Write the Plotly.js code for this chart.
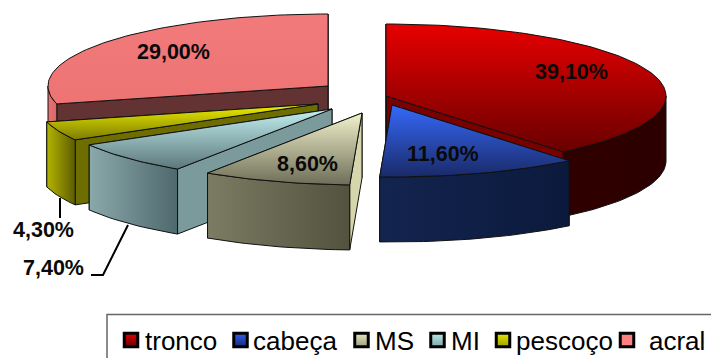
<!DOCTYPE html>
<html>
<head>
<meta charset="utf-8">
<script src="https://cdn.plot.ly/plotly-3.0.1.min.js"></script>
<style>html,body{margin:0;padding:0;background:#fff;overflow:hidden}#chart{width:711px;height:358px}</style>
</head>
<body>
<div id="chart"></div>
<script>
// Body-site distribution, drawn as an exploded pseudo-3D pie.
const categories = ['tronco', 'cabeça', 'MS', 'MI', 'pescoço', 'acral'];
const values = [39.1, 11.6, 8.6, 7.4, 4.3, 29.0];

// Exploded position of each wedge's tip on the pixel-scaled axes.
const tipX = [386, 392, 362, 332, 318, 328];
const tipY = [96, 105, 113, 109, 104, 86];
const radiusX = 280, radiusY = 72, depth = 65;

// Top-face gradient (far to near), outer wall gradient (left to right), flat radial walls.
const topFar = ['#e80000', '#3569fb', '#f2f2cc', '#c2f0f0', '#f0f000', '#f27a7a'];
const topNear = ['#6a0000', '#1a2a68', '#6e6e58', '#5c777b', '#7c7c00', '#ee7474'];
const wallLeft = ['#300000', '#13244f', '#7c7c64', '#8aa9ab', '#b4b400', '#e87272'];
const wallRight = ['#2c0000', '#0b1a3c', '#52523e', '#4f686d', '#5c5c00', '#d86868'];
const radialStart = ['#2c0000', '#0b1a3c', '#d6d6ac', '#7a9a9c', '#6e6e00', '#633232'];
const radialEnd = ['#7a0000', '#0b1a3c', '#52523e', '#4f686d', '#5c5c00', '#633232'];

// Legend layout on the same axes.
const keyX = [131, 240.5, 361.5, 437.5, 503, 627];
const keyTextX = [145, 253, 375, 451, 516, 649];
const keyY = 340;
const keyTextY = 341;

// Value-label anchors and the two leader lines.
const labelX = [571, 443, 307, 53, 43, 173];
const labelY = [72, 154, 164, 268, 230, 52];
const leaderA = {x: [60, 60], y: [198, 218]};
const leaderB = {x: [128, 103, 91], y: [225, 275, 275]};

const OUTLINE = '#111111';
const rad = d => d * Math.PI / 180;
const rimX = (i, deg) => tipX[i] + radiusX * Math.sin(rad(deg));
const rimY = (i, deg) => tipY[i] - radiusY * Math.cos(rad(deg));

function poly(name, xs, ys, fillgradient, fillcolor) {
  const t = {
    type: 'scatter', mode: 'lines', name,
    x: xs.concat(xs[0]), y: ys.concat(ys[0]),
    fill: 'toself', hoverinfo: 'skip',
    line: {color: OUTLINE, width: 1}
  };
  if (fillgradient) t.fillgradient = fillgradient; else t.fillcolor = fillcolor;
  return t;
}

function arc(from, to) {
  const out = [];
  const n = Math.max(2, Math.ceil((to - from) / 1.5));
  for (let k = 0; k <= n; k++) out.push(from + (to - from) * k / n);
  return out;
}

function wedgeTraces(i, a0, a1) {
  const name = categories[i];
  const traces = [];
  const ax = tipX[i], ay = tipY[i];

  // Radial cut faces: the far cut first, so the near one stays visible over it.
  [[a1, radialEnd[i]], [a0, radialStart[i]]].forEach(([a, col]) => {
    const x = rimX(i, a), y = rimY(i, a);
    traces.push(poly(name + ' corte', [ax, x, x, ax], [ay, y, y + depth, ay + depth], null, col));
  });

  // Outer wall: only the near half of the rim faces the viewer.
  const w0 = Math.max(a0, 90), w1 = Math.min(a1, 270);
  if (w1 > w0) {
    const angs = arc(w0, w1);
    const topXs = angs.map(a => rimX(i, a));
    const topYs = angs.map(a => rimY(i, a));
    const xs = topXs.concat(topXs.slice().reverse());
    const ys = topYs.concat(topYs.slice().reverse().map(y => y + depth));
    const lo = Math.min(...xs), hi = Math.max(...xs);
    traces.push(poly(name + ' lateral', xs, ys, {
      type: 'horizontal', start: lo, stop: hi,
      colorscale: [[0, wallLeft[i]], [1, wallRight[i]]]
    }));
  }

  // Top face.
  const angs = arc(a0, a1);
  const xs = [ax].concat(angs.map(a => rimX(i, a)));
  const ys = [ay].concat(angs.map(a => rimY(i, a)));
  const yLo = Math.min(...ys), yHi = Math.max(...ys);
  traces.push(poly(name, xs, ys, {
    type: 'vertical', start: yLo, stop: yHi,
    colorscale: [[0, topFar[i]], [1, topNear[i]]]
  }));
  return traces;
}

// Cumulative angles, clockwise from twelve o'clock.
const total = values.reduce((a, b) => a + b, 0);
const startAngle = [], endAngle = [];
values.reduce((acc, v, i) => {
  startAngle[i] = acc / total * 360;
  endAngle[i] = (acc + v) / total * 360;
  return acc + v;
}, 0);

// Painter's order: farthest wedge first, near wedges last.
const paintOrder = [5, 4, 3, 2, 0, 1];
const data = [];
paintOrder.forEach(i => data.push(...wedgeTraces(i, startAngle[i], endAngle[i])));

[leaderA, leaderB].forEach(l => data.push({
  type: 'scatter', mode: 'lines', x: l.x, y: l.y, hoverinfo: 'skip',
  line: {color: '#000', width: 2}
}));

// Legend keys.
const keyColors = ['#e00000', '#2f5fe8', '#e6e6c0', '#b8e6e6', '#e6e600', '#ff8080'];
const keyDark = ['#6a0000', '#1a2a80', '#a0a080', '#80a8a8', '#a0a000', '#ff8080'];
categories.forEach((c, i) => data.push({
  type: 'scatter', mode: 'markers', x: [keyX[i]], y: [keyY], hoverinfo: 'skip',
  marker: {
    symbol: 'square', size: 13.5, color: keyColors[i],
    gradient: {type: 'vertical', color: keyDark[i]},
    line: {color: '#000', width: 3}
  }
}));

const pct = v => v.toFixed(2).replace('.', ',') + '%';
const annotations = [];
values.forEach((v, i) => annotations.push({
  xref: 'x', yref: 'y', x: labelX[i], y: labelY[i], text: '<b>' + pct(v) + '</b>',
  showarrow: false, xanchor: 'center', yanchor: 'middle',
  font: {family: '"Liberation Sans", Arial, sans-serif', size: 21.5, color: '#0a0a0a'}
}));
categories.forEach((c, i) => annotations.push({
  xref: 'x', yref: 'y', x: keyTextX[i], y: keyTextY, text: c,
  showarrow: false, xanchor: 'left', yanchor: 'middle',
  xshift: -2,
  font: {family: '"Liberation Sans", Arial, sans-serif', size: 26, color: '#000'}
}));

const hidden = {visible: false, fixedrange: true};
const layout = {
  width: 711, height: 358,
  margin: {l: 0, r: 0, t: 0, b: 0, pad: 0},
  paper_bgcolor: '#fff', plot_bgcolor: '#fff',
  showlegend: false, hovermode: false,
  xaxis: Object.assign({range: [0, 711]}, hidden),
  yaxis: Object.assign({range: [358, 0]}, hidden),
  shapes: [{
    type: 'rect', xref: 'x', yref: 'y', x0: 107, x1: 730, y0: 314.5, y1: 370,
    line: {color: '#666', width: 1.5}, fillcolor: 'rgba(0,0,0,0)'
  }],
  annotations
};

Plotly.newPlot('chart', data, layout, {displayModeBar: false, staticPlot: true});
</script>
</body>
</html>
